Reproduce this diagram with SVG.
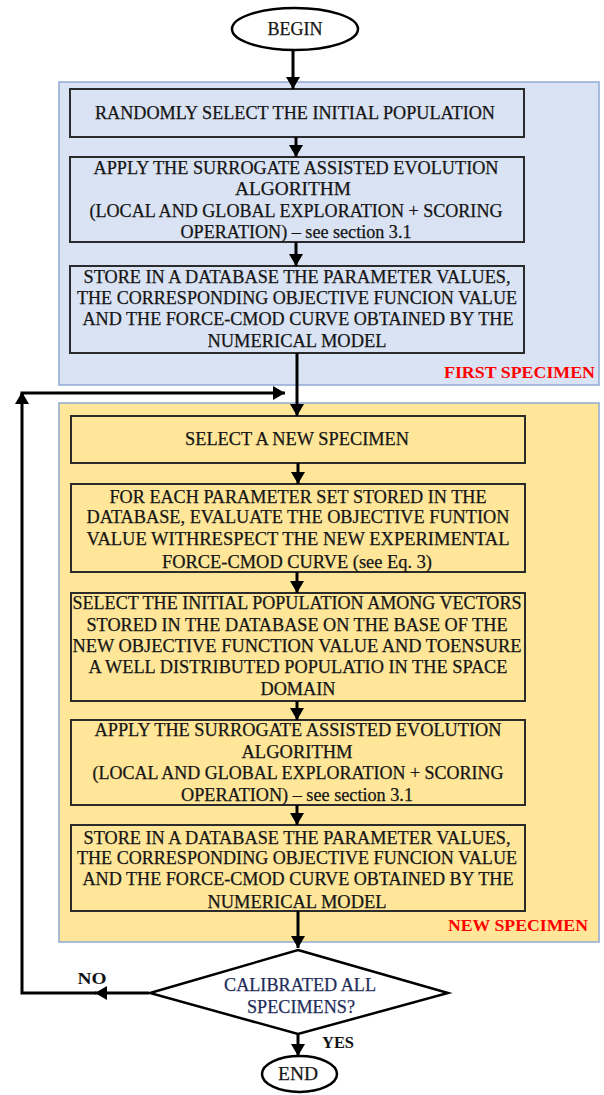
<svg xmlns="http://www.w3.org/2000/svg" width="604" height="1095" viewBox="0 0 604 1095">
<defs>
<style>
.t{font-family:"Liberation Serif","Times New Roman",serif;font-size:18px;fill:#151515;stroke:#151515;stroke-width:0.25;text-anchor:middle}
.box{stroke:#2b2b2b;stroke-width:2}
.blue{fill:#dae3f3}
.yel{fill:#ffe699}
.panel{stroke:#8fa9d4;stroke-width:1.5}
.red{font-family:"Liberation Serif","Times New Roman",serif;font-size:17px;font-weight:bold;fill:#ff0000;text-anchor:start}
.term{fill:#fff;stroke:#000;stroke-width:2.5}
.conn{stroke:#000;stroke-width:3;fill:none}
.lab{font-family:"Liberation Serif","Times New Roman",serif;font-size:17px;font-weight:bold;fill:#111;text-anchor:middle}
.dt{font-family:"Liberation Serif","Times New Roman",serif;font-size:18px;fill:#1f2d5a;stroke:#1f2d5a;stroke-width:0.25;text-anchor:middle}
</style>
<marker id="ah" viewBox="0 0 12 14" refX="12" refY="7" markerWidth="12" markerHeight="14" markerUnits="userSpaceOnUse" orient="auto">
<path d="M0,0 L12,7 L0,14 z" fill="#000"/>
</marker>
</defs>
<rect width="604" height="1095" fill="#fff"/>

<g id="panel-first">
<rect class="blue panel" x="59" y="82" width="540" height="303"/>
<text class="red" x="444" y="378" textLength="151" lengthAdjust="spacingAndGlyphs">FIRST SPECIMEN</text>
</g>
<g id="panel-new">
<rect class="yel panel" x="59" y="403" width="540" height="539"/>
<text class="red" x="448" y="931" textLength="140" lengthAdjust="spacingAndGlyphs">NEW SPECIMEN</text>
</g>

<g id="begin">
<ellipse class="term" cx="295" cy="29" rx="63" ry="21"/>
<text class="t" x="295" y="35" textLength="55" lengthAdjust="spacingAndGlyphs">BEGIN</text>
</g>

<g id="box1">
<rect class="box blue" x="70" y="89" width="454" height="48"/>
<text class="t" x="295" y="119" textLength="400" lengthAdjust="spacingAndGlyphs">RANDOMLY SELECT THE INITIAL POPULATION</text>
</g>

<g id="box2">
<rect class="box blue" x="70" y="157" width="454" height="85"/>
<text class="t" x="296" y="174" textLength="405" lengthAdjust="spacingAndGlyphs">APPLY THE SURROGATE ASSISTED EVOLUTION</text>
<text class="t" x="293" y="195" textLength="116" lengthAdjust="spacingAndGlyphs">ALGORITHM</text>
<text class="t" x="296" y="217" textLength="413" lengthAdjust="spacingAndGlyphs">(LOCAL AND GLOBAL EXPLORATION + SCORING</text>
<text class="t" x="296" y="238" textLength="231" lengthAdjust="spacingAndGlyphs">OPERATION) – see section 3.1</text>
</g>

<g id="box3">
<rect class="box blue" x="70" y="266" width="454" height="87"/>
<text class="t" x="297" y="283" textLength="427" lengthAdjust="spacingAndGlyphs">STORE IN A DATABASE THE PARAMETER VALUES,</text>
<text class="t" x="297" y="304" textLength="440" lengthAdjust="spacingAndGlyphs">THE CORRESPONDING OBJECTIVE FUNCION VALUE</text>
<text class="t" x="298" y="325" textLength="431" lengthAdjust="spacingAndGlyphs">AND THE FORCE-CMOD CURVE OBTAINED BY THE</text>
<text class="t" x="297" y="347" textLength="179" lengthAdjust="spacingAndGlyphs">NUMERICAL MODEL</text>
</g>

<g id="box4">
<rect class="box yel" x="71" y="416" width="454" height="47"/>
<text class="t" x="297" y="445" textLength="224" lengthAdjust="spacingAndGlyphs">SELECT A NEW SPECIMEN</text>
</g>

<g id="box5">
<rect class="box yel" x="71" y="484" width="454" height="88"/>
<text class="t" x="298" y="503" textLength="377" lengthAdjust="spacingAndGlyphs">FOR EACH PARAMETER SET STORED IN THE</text>
<text class="t" x="298" y="523" textLength="423" lengthAdjust="spacingAndGlyphs">DATABASE, EVALUATE THE OBJECTIVE FUNTION</text>
<text class="t" x="298" y="545" textLength="423" lengthAdjust="spacingAndGlyphs">VALUE WITHRESPECT THE NEW EXPERIMENTAL</text>
<text class="t" x="297" y="568" textLength="270" lengthAdjust="spacingAndGlyphs">FORCE-CMOD CURVE  (see Eq. 3)</text>
</g>

<g id="box6">
<rect class="box yel" x="71" y="593" width="454" height="108"/>
<text class="t" x="297" y="609" textLength="449" lengthAdjust="spacingAndGlyphs">SELECT THE INITIAL POPULATION AMONG VECTORS</text>
<text class="t" x="297" y="631" textLength="421" lengthAdjust="spacingAndGlyphs">STORED IN THE DATABASE ON THE BASE OF THE</text>
<text class="t" x="297" y="652" textLength="449" lengthAdjust="spacingAndGlyphs">NEW OBJECTIVE FUNCTION VALUE AND TOENSURE</text>
<text class="t" x="298" y="673" textLength="419" lengthAdjust="spacingAndGlyphs">A WELL DISTRIBUTED POPULATIO IN THE SPACE</text>
<text class="t" x="298" y="695" textLength="75" lengthAdjust="spacingAndGlyphs">DOMAIN</text>
</g>

<g id="box7">
<rect class="box yel" x="71" y="720" width="454" height="85"/>
<text class="t" x="298" y="736" textLength="407" lengthAdjust="spacingAndGlyphs">APPLY THE SURROGATE ASSISTED EVOLUTION</text>
<text class="t" x="297" y="758" textLength="111" lengthAdjust="spacingAndGlyphs">ALGORITHM</text>
<text class="t" x="298" y="779" textLength="411" lengthAdjust="spacingAndGlyphs">(LOCAL AND GLOBAL EXPLORATION + SCORING</text>
<text class="t" x="297" y="801" textLength="232" lengthAdjust="spacingAndGlyphs">OPERATION) – see section 3.1</text>
</g>

<g id="box8">
<rect class="box yel" x="71" y="825" width="454" height="86"/>
<text class="t" x="297" y="844" textLength="427" lengthAdjust="spacingAndGlyphs">STORE IN A DATABASE THE PARAMETER VALUES,</text>
<text class="t" x="297" y="864" textLength="440" lengthAdjust="spacingAndGlyphs">THE CORRESPONDING OBJECTIVE FUNCION VALUE</text>
<text class="t" x="298" y="885" textLength="431" lengthAdjust="spacingAndGlyphs">AND THE FORCE-CMOD CURVE OBTAINED BY THE</text>
<text class="t" x="297" y="908" textLength="179" lengthAdjust="spacingAndGlyphs">NUMERICAL MODEL</text>
</g>

<g id="decision">
<polygon points="298,950 448,993 298,1034 150,993" fill="#fff" stroke="#000" stroke-width="2.5"/>
<text class="dt" x="300" y="991" textLength="152" lengthAdjust="spacingAndGlyphs">CALIBRATED ALL</text>
<text class="dt" x="301" y="1013" textLength="108" lengthAdjust="spacingAndGlyphs">SPECIMENS?</text>
</g>

<g id="end">
<ellipse class="term" cx="299.5" cy="1074" rx="37.5" ry="18"/>
<text class="t" x="298" y="1080" textLength="40" lengthAdjust="spacingAndGlyphs">END</text>
</g>

<g id="connectors">
<line class="conn" x1="293" y1="50" x2="293" y2="89" marker-end="url(#ah)"/>
<line class="conn" x1="296" y1="137" x2="296" y2="157" marker-end="url(#ah)"/>
<line class="conn" x1="296" y1="242" x2="296" y2="266" marker-end="url(#ah)"/>
<line class="conn" x1="297" y1="353" x2="297" y2="416" marker-end="url(#ah)"/>
<line class="conn" x1="298" y1="463" x2="298" y2="484" marker-end="url(#ah)"/>
<line class="conn" x1="297" y1="572" x2="297" y2="593" marker-end="url(#ah)"/>
<line class="conn" x1="297" y1="701" x2="297" y2="720" marker-end="url(#ah)"/>
<line class="conn" x1="297" y1="805" x2="297" y2="825" marker-end="url(#ah)"/>
<line class="conn" x1="298" y1="911" x2="298" y2="948" marker-end="url(#ah)"/>
<line class="conn" x1="298" y1="1034" x2="298" y2="1056" marker-end="url(#ah)"/>
<line class="conn" x1="149" y1="993" x2="95" y2="993" marker-end="url(#ah)"/>
<polyline class="conn" points="96,993 22,993 22,393"/>
<polyline class="conn" points="22,404 22,393 285,393" marker-end="url(#ah)"/>
<path d="M15,404 L22,392 L29,404 z" fill="#000"/>
<text class="lab" x="92" y="984" textLength="29" lengthAdjust="spacingAndGlyphs">NO</text>
<text class="lab" x="338" y="1048" textLength="32" lengthAdjust="spacingAndGlyphs">YES</text>
</g>
</svg>
